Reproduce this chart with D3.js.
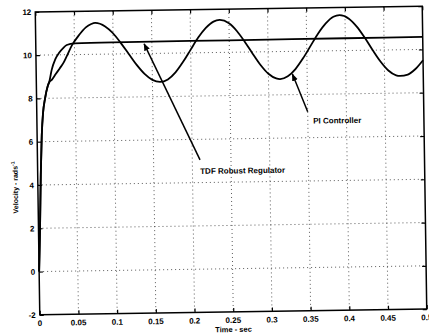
<!DOCTYPE html>
<html>
<head>
<meta charset="utf-8">
<script src="https://cdn.jsdelivr.net/npm/d3@7"></script>
<style>
  html, body { margin: 0; padding: 0; background: #fff; overflow: hidden; }
  svg { display: block; font-family: "Liberation Sans", Arial, sans-serif; }
</style>
</head>
<body>
<div id="chart"></div>
<script>
// Velocity step response: TDF robust regulator vs PI controller
const tdfTime = [0, 0.002, 0.004, 0.006, 0.008, 0.011, 0.015, 0.017, 0.02, 0.025, 0.03, 0.035, 0.04, 0.05, 0.1, 0.2, 0.3, 0.4, 0.5];
const tdfVel  = [0, 2, 4.5, 6.3, 7.3, 8.0, 8.6, 8.8, 9.3, 9.8, 10.1, 10.3, 10.45, 10.52, 10.54, 10.55, 10.56, 10.57, 10.58];

const piTime = [0, 0.002, 0.004, 0.006, 0.008, 0.011, 0.015, 0.017, 0.02, 0.025, 0.03, 0.035, 0.04, 0.047, 0.055, 0.065, 0.072, 0.077,
  0.09, 0.1, 0.11, 0.12, 0.13, 0.14, 0.15, 0.16, 0.17, 0.18, 0.19, 0.2, 0.21, 0.22, 0.23, 0.238,
  0.25, 0.26, 0.27, 0.28, 0.29, 0.3, 0.31, 0.315, 0.325, 0.335, 0.345, 0.355, 0.365, 0.375, 0.385, 0.393,
  0.405, 0.415, 0.425, 0.435, 0.445, 0.455, 0.465, 0.47, 0.48, 0.49, 0.5];
const piVel = [0, 2, 4.5, 6.3, 7.3, 8.0, 8.6, 8.75, 8.85, 9.1, 9.35, 9.6, 9.95, 10.45, 10.85, 11.25, 11.4, 11.45,
  11.28, 10.96, 10.5, 9.99, 9.48, 9.06, 8.78, 8.68, 8.79, 9.11, 9.59, 10.15, 10.7, 11.14, 11.43, 11.5,
  11.34, 10.98, 10.48, 9.92, 9.39, 8.98, 8.76, 8.73, 8.85, 9.18, 9.67, 10.24, 10.81, 11.27, 11.57, 11.64,
  11.47, 11.1, 10.59, 10.01, 9.47, 9.05, 8.82, 8.79, 8.85, 9.1, 9.5];

const xTicks = [0, 0.05, 0.1, 0.15, 0.2, 0.25, 0.3, 0.35, 0.4, 0.45, 0.5];
const xTickLabels = ["0", "0.05", "0.1", "0.15", "0.2", "0.25", "0.3", "0.35", "0.4", "0.45", "0.5"];
const yTicks = [-2, 0, 2, 4, 6, 8, 10, 12];

// annotation: [label, text t, text v, arrow tail t, tail v, arrow head t, head v]
const notes = [
  ["PI Controller", 0.357, 6.65, 0.35, 7.2, 0.331, 8.95],
  ["TDF Robust Regulator", 0.21, 4.4, 0.21, 5.05, 0.14, 10.45]
];

const W = 429, H = 334;
const M = { left: 37.5, right: 4.5, top: 9, bottom: 22 };
const iW = W - M.left - M.right;
const iH = H - M.top - M.bottom;

const svg = d3.select("#chart").append("svg")
  .attr("width", W).attr("height", H)
  .attr("viewBox", `0 0 ${W} ${H}`);

// the scanned figure sits slightly tilted
const root = svg.append("g").attr("transform", "rotate(-0.85, 231, 160)");
const g = root.append("g").attr("transform", `translate(${M.left},${M.top})`);

const x = d3.scaleLinear().domain([0, 0.5]).range([0, iW]);
const y = d3.scaleLinear().domain([-2, 12]).range([iH, 0]);

// dotted grid
g.append("g").selectAll("line").data(xTicks.slice(1, -1)).join("line")
  .attr("x1", d => x(d)).attr("x2", d => x(d)).attr("y1", 0).attr("y2", iH)
  .attr("stroke", "#333").attr("stroke-width", 0.8).attr("stroke-dasharray", "1,3");
g.append("g").selectAll("line").data(yTicks.slice(1, -1)).join("line")
  .attr("y1", d => y(d)).attr("y2", d => y(d)).attr("x1", 0).attr("x2", iW)
  .attr("stroke", "#333").attr("stroke-width", 0.8).attr("stroke-dasharray", "1,3");

// inward ticks on all four sides
const tk = 4;
g.append("g").call(d3.axisBottom(x).tickValues(xTicks).tickSize(-tk).tickFormat(""))
  .attr("transform", `translate(0,${iH})`)
  .call(a => a.select(".domain").remove())
  .call(a => a.selectAll(".tick line").attr("stroke", "#000").attr("stroke-width", 1.2));
g.append("g").call(d3.axisTop(x).tickValues(xTicks).tickSize(-tk).tickFormat(""))
  .call(a => a.select(".domain").remove())
  .call(a => a.selectAll(".tick line").attr("stroke", "#000").attr("stroke-width", 1.2));
g.append("g").call(d3.axisLeft(y).tickValues(yTicks).tickSize(-tk).tickFormat(""))
  .call(a => a.select(".domain").remove())
  .call(a => a.selectAll(".tick line").attr("stroke", "#000").attr("stroke-width", 1.2));
g.append("g").call(d3.axisRight(y).tickValues(yTicks).tickSize(-tk).tickFormat(""))
  .attr("transform", `translate(${iW},0)`)
  .call(a => a.select(".domain").remove())
  .call(a => a.selectAll(".tick line").attr("stroke", "#000").attr("stroke-width", 1.2));

// tick labels
g.append("g").selectAll("text").data(xTicks).join("text")
  .attr("x", d => x(d)).attr("y", iH + 11)
  .attr("text-anchor", "middle").attr("font-size", 8).attr("font-weight", "bold")
  .text((d, i) => xTickLabels[i]);
g.append("g").selectAll("text").data(yTicks).join("text")
  .attr("x", -4).attr("y", d => y(d) + 3)
  .attr("text-anchor", "end").attr("font-size", 8).attr("font-weight", "bold")
  .text(d => d);

// curves
const line = d3.line().x(d => x(d[0])).y(d => y(d[1])).curve(d3.curveMonotoneX);
g.append("path").datum(tdfTime.map((t, i) => [t, tdfVel[i]]))
  .attr("fill", "none").attr("stroke", "#000").attr("stroke-width", 1.8).attr("d", line);
g.append("path").datum(piTime.map((t, i) => [t, piVel[i]]))
  .attr("fill", "none").attr("stroke", "#000").attr("stroke-width", 1.8).attr("d", line);

// box
g.append("rect").attr("width", iW).attr("height", iH)
  .attr("fill", "none").attr("stroke", "#000").attr("stroke-width", 1.5);

// annotations with arrows
svg.append("defs").append("marker").attr("id", "head")
  .attr("viewBox", "0 0 10 10").attr("refX", 9).attr("refY", 5)
  .attr("markerWidth", 5).attr("markerHeight", 5).attr("orient", "auto")
  .append("path").attr("d", "M0,1 L10,5 L0,9 Z").attr("fill", "#000");

notes.forEach(n => {
  g.append("line")
    .attr("x1", x(n[3])).attr("y1", y(n[4]))
    .attr("x2", x(n[5])).attr("y2", y(n[6]))
    .attr("stroke", "#000").attr("stroke-width", 1.5).attr("marker-end", "url(#head)");
  g.append("text").attr("x", x(n[1])).attr("y", y(n[2]))
    .attr("font-size", 8).attr("font-weight", "bold").text(n[0]);
});

// axis titles
g.append("text").attr("x", iW / 2).attr("y", iH + 20)
  .attr("text-anchor", "middle").attr("font-size", 7.5).attr("font-weight", "bold")
  .text("Time - sec");
g.append("text")
  .attr("transform", `translate(${-20},${y(3.9)}) rotate(-90)`)
  .attr("text-anchor", "middle").attr("font-size", 7).attr("font-weight", "bold")
  .text("Velocity - rads")
  .append("tspan").attr("dy", -3).attr("font-size", 5).text("-1");
</script>
</body>
</html>
